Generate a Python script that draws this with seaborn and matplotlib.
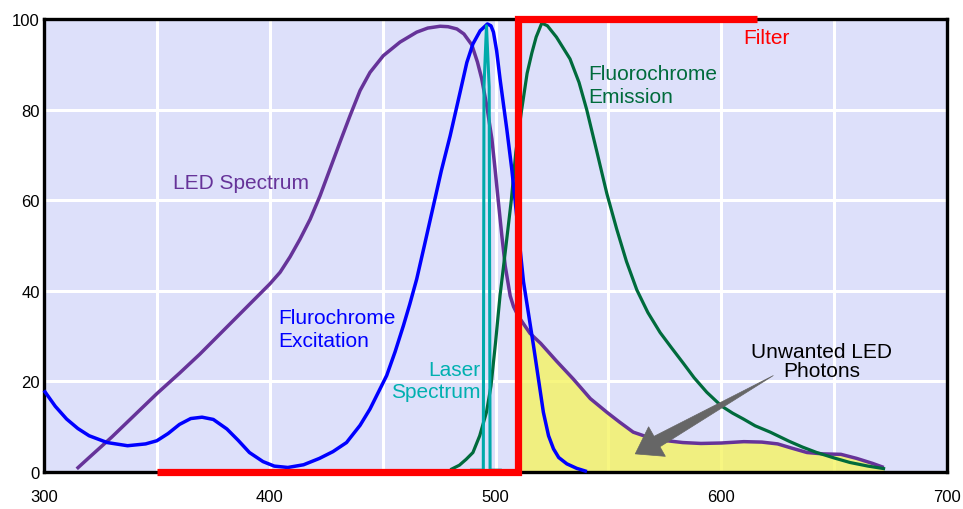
import numpy as np
import pandas as pd
import matplotlib
matplotlib.use("Agg")
import matplotlib.pyplot as plt
import seaborn as sns
from matplotlib.patches import Polygon
from matplotlib.transforms import IdentityTransform

# ---------------- data ----------------
led_nm = [314.5, 320, 330, 340, 350, 360, 369, 380, 390, 400, 404.6, 409, 413.4, 417.9,
          422.3, 426.7, 431.1, 435.6, 440, 444.4, 450.3, 457.7, 465.1, 470, 475.5, 479,
          482.9, 486, 489.5, 492, 493.9, 496.1, 498.4, 499.8, 501.3, 502.8, 504.3, 506.5,
          508, 510, 512, 515.3, 520, 527, 534.5, 542, 549.3, 555, 561, 568, 576, 583,
          591, 600, 610, 618, 625, 631, 638, 645, 653, 660, 667, 672]
led_val = [0.7, 3.2, 7.7, 12.5, 17.3, 21.8, 26, 31.5, 36.5, 41.5, 44.1, 47.5, 51.4, 55.8,
           61.0, 66.9, 72.8, 78.7, 84.2, 88.2, 91.9, 94.9, 97.1, 98, 98.4, 98.3,
           97.8, 96.7, 94.3, 90.5, 86.8, 80.9, 73.5, 66.9, 59.5, 52.2, 45.5, 38.9,
           36.5, 34.5, 33.0, 30.6, 28.4, 24.5, 20.5, 16.2, 13.2, 11, 8.8, 7.6, 6.9, 6.5,
           6.3, 6.4, 6.7, 6.6, 6.2, 5.3, 4.3, 4.0, 3.9, 3.0, 1.9, 1.0]

exc_nm = [300, 305, 310, 315, 320, 328, 337, 345, 350, 355, 360, 365, 370, 375, 381,
          386, 391, 397, 402, 408, 415, 422, 428, 434, 440, 444.4, 448, 451.8, 455.5,
          459.2, 462, 465.1, 468.5, 472.5, 476, 479.9, 484.3, 487.3, 490, 493.2, 496.4,
          498, 499.1, 500.5, 502, 505, 507.2, 509.5, 512.4, 514.6, 516.8, 519, 521.2,
          523.5, 525.7, 528, 531.6, 536, 540.5]
exc_val = [18, 14.5, 11.7, 9.6, 8.0, 6.5, 5.8, 6.2, 6.9, 8.5, 10.5, 11.8, 12.1, 11.6, 9.5,
           7.0, 4.3, 2.3, 1.3, 1.0, 1.6, 3.0, 4.5, 6.5, 10.3, 13.9, 17.5, 21.3, 26.5,
           32.3, 37, 42.6, 50, 58.8, 66.5, 74.2, 83.8, 90.4, 94.5, 97.4, 98.9,
           98.5, 97.1, 93, 86.8, 75.7, 66.9, 56, 42, 35, 28, 20.6, 13.2,
           8, 5.1, 3.2, 1.8, 0.8, 0.1]

emi_nm = [480, 484, 487, 490, 493, 496, 498, 500, 502, 504.3, 507, 509, 511.6, 514,
          516.1, 518, 520.5, 523, 527, 533, 537, 540.4, 545, 549.3, 553.7, 558, 562.6,
          567.5, 572.9, 578, 583.2, 588, 593.6, 600, 605, 609.8, 615, 621.7, 630, 636,
          642.3, 650, 657, 665, 672.6]
emi_val = [0.5, 1.5, 2.8, 4.3, 8, 13.2, 19, 28.5, 38.9, 48.5, 60, 70.6, 80, 88,
           92.5, 96, 99.1, 98.5, 96, 91.2, 86, 80, 70.5, 61.5, 53.6, 46.5, 40.2,
           35.2, 30.8, 27.4, 24.0, 20.8, 17.6, 14.6, 13, 11.7, 10.2, 8.8, 6.8, 5.5,
           4.3, 3.1, 2.1, 1.3, 0.7]

laser_nm = [488.7, 494.6, 494.9, 496, 497.2, 497.6, 502.8]
laser_val = [0.4, 0.4, 85, 98.5, 85, 0.4, 0.4]

filter_nm = [350, 510, 510, 616]
filter_val = [0, 0, 100, 100]

x_ticks = [300, 350, 400, 450, 500, 550, 600, 650, 700]
x_ticklabels = ["300", "", "400", "", "500", "", "600", "", "700"]
y_ticks = [0, 20, 40, 60, 80, 100]

# ---------------- colours ----------------
C_LED = "#663399"
C_EXC = "#0000FF"
C_EMI = "#006B3C"
C_LASER = "#00AAAA"
C_FILTER = "#FF0000"
C_BG = "#DDE0FA"

sns.set_style("white")
plt.rcParams['font.family'] = ['Liberation Sans', 'DejaVu Sans']

fig = plt.figure(figsize=(9.63, 5.10), dpi=100)
ax = fig.add_axes([44 / 963, 37 / 510, 903 / 963, 453 / 510])
ax.set_facecolor(C_BG)

# unwanted photons fill
led = pd.DataFrame({"nm": led_nm, "val": led_val})
sel = led[led["nm"] >= 510]
ax.fill_between(sel["nm"], sel["val"], 0, color=(245 / 255, 244 / 255, 98 / 255),
                alpha=0.8, lw=0, zorder=1)

common = dict(ax=ax, estimator=None, sort=False, clip_on=False,
              solid_joinstyle="round", solid_capstyle="butt")
sns.lineplot(x=led_nm, y=led_val, color=C_LED, lw=2.5, zorder=3, **common)
sns.lineplot(x=emi_nm, y=emi_val, color=C_EMI, lw=2.3, zorder=3.5, **common)
sns.lineplot(x=exc_nm, y=exc_val, color=C_EXC, lw=2.5, zorder=4, **common)
sns.lineplot(x=laser_nm, y=laser_val, color=C_LASER, lw=2.2, zorder=5, **common)
ax.plot(filter_nm, filter_val, color=C_FILTER, lw=5.2, zorder=6, clip_on=False,
        solid_joinstyle="miter", solid_capstyle="butt")

ax.set_xlim(300, 700)
ax.set_ylim(0, 100)
ax.set_xticks(x_ticks)
ax.set_xticklabels(x_ticklabels)
ax.set_yticks(y_ticks)
ax.tick_params(axis="both", length=0, labelsize=12, colors="black")
ax.tick_params(axis="x", pad=12)
ax.tick_params(axis="y", pad=3)
ax.grid(True, color="white", lw=2.2)
ax.set_axisbelow(True)
for s in ax.spines.values():
    s.set_visible(True)
    s.set_color("black")
    s.set_linewidth(2.4)
    s.set_zorder(2)

# labels
fs = 15
ax.text(357.2, 64, "LED Spectrum", color=C_LED, fontsize=fs, ha="left", va="center", zorder=8)
ax.text(403.8, 31.6, "Flurochrome\nExcitation", color=C_EXC, fontsize=fs, ha="left",
        va="center", linespacing=1.25, zorder=8)
ax.text(493.2, 20.2, "Laser\nSpectrum", color="#00B0B0", fontsize=fs, ha="right",
        va="center", multialignment="right", linespacing=1.25, zorder=8)
ax.text(541.2, 85.5, "Fluorochrome\nEmission", color=C_EMI, fontsize=fs, ha="left",
        va="center", linespacing=1.25, zorder=8)
ax.text(609.9, 96, "Filter", color=C_FILTER, fontsize=fs, ha="left", va="center", zorder=8)
ax.text(644.5, 24.5, "Unwanted LED\nPhotons", color="black", fontsize=fs, ha="center",
        va="center", multialignment="center", linespacing=0.95, zorder=8)

# arrow (built in pixel space so it keeps its shape)
tail = np.array(ax.transData.transform((623.1, 21.3)))
tip = np.array(ax.transData.transform((561.9, 4.0)))
d = (tip - tail) / np.linalg.norm(tip - tail)
n = np.array([-d[1], d[0]])
L, W, w = 25, 34, 12
base = tip - d * L
pts = [tail, base + n * w / 2, base + n * W / 2, tip, base - n * W / 2, base - n * w / 2]
ax.add_patch(Polygon(pts, closed=True, transform=IdentityTransform(),
                     facecolor="#666666", edgecolor="#666666", lw=0.5, zorder=7))

fig.savefig("out.png", dpi=100)
